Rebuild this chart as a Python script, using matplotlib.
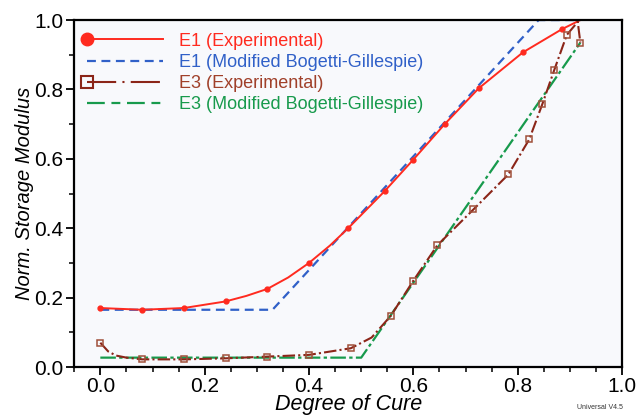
import matplotlib.pyplot as plt
from matplotlib.lines import Line2D
from matplotlib.legend_handler import HandlerLine2D
from matplotlib.ticker import MultipleLocator

plt.rcParams['font.family'] = ['Liberation Sans', 'DejaVu Sans']

# E1 experimental
e1_x = [0.0, 0.08, 0.16, 0.24, 0.28, 0.32, 0.36, 0.40, 0.44, 0.475, 0.545, 0.60, 0.66, 0.725, 0.81, 0.885, 0.92]
e1_y = [0.170, 0.165, 0.170, 0.189, 0.205, 0.225, 0.258, 0.300, 0.350, 0.400, 0.507, 0.598, 0.700, 0.803,
        0.907, 0.974, 1.0]
e1_marks = [0, 1, 2, 3, 5, 7, 9, 10, 11, 12, 13, 14, 15]

# E1 modified Bogetti-Gillespie
e1m_x = [0.0, 0.33, 0.84, 0.92]
e1m_y = [0.165, 0.165, 1.0, 1.0]

# E3 experimental
e3_x = [0.0, 0.015, 0.03, 0.05, 0.08, 0.16, 0.24, 0.32, 0.40, 0.48, 0.52, 0.557, 0.60,
        0.646, 0.715, 0.782, 0.822, 0.847, 0.87, 0.894, 0.915, 0.92]
e3_y = [0.070, 0.045, 0.033, 0.027, 0.022, 0.022, 0.025, 0.030, 0.035, 0.054, 0.085, 0.148, 0.249,
        0.351, 0.454, 0.555, 0.656, 0.757, 0.856, 0.957, 0.995, 0.935]
e3_marks = [0, 4, 5, 6, 7, 8, 9, 11, 12, 13, 14, 15, 16, 17, 18, 19, 21]

# E3 modified Bogetti-Gillespie
e3m_x = [0.0, 0.50, 0.92]
e3m_y = [0.027, 0.027, 0.935]

c_red = '#ff2a1f'
c_blue = '#3060c8'
c_brown = '#8b2518'
c_green = '#179a4c'


class LeftMarkerHandler(HandlerLine2D):
    # marker at the left end of the legend line, like the original software
    def create_artists(self, *args, **kwargs):
        arts = super().create_artists(*args, **kwargs)
        for a in arts:
            a.set_markevery([0])
        return arts


fig = plt.figure(figsize=(6.4, 4.18), dpi=100)
ax = fig.add_axes([0.116, 0.122, 0.856, 0.830])
ax.set_facecolor('#f8f9fc')

ax.plot(e1m_x, e1m_y, color=c_blue, lw=1.6, dashes=(4, 2.5))
ax.plot(e3m_x, e3m_y, color=c_green, lw=1.6, dashes=(7, 1.5, 1.5, 1.5))
ax.plot(e1_x, e1_y, color=c_red, lw=1.4, marker='o', ms=3.5, markevery=e1_marks)
ax.plot(e3_x, e3_y, color=c_brown, lw=1.5, dashes=(6, 1.5, 1, 1.5), marker='s', ms=5,
        mfc='none', mec='#a0503a', mew=1.1, markevery=e3_marks)

ax.set_xlim(-0.05, 1.0)
ax.set_ylim(0.0, 1.0)
ax.xaxis.set_major_locator(MultipleLocator(0.2))
ax.xaxis.set_minor_locator(MultipleLocator(0.05))
ax.yaxis.set_major_locator(MultipleLocator(0.2))
ax.yaxis.set_minor_locator(MultipleLocator(0.1))
ax.xaxis.set_major_formatter(plt.FormatStrFormatter('%.1f'))
ax.yaxis.set_major_formatter(plt.FormatStrFormatter('%.1f'))
ax.tick_params(which='major', direction='out', length=6, width=1.3, labelsize=15, pad=2)
ax.tick_params(axis='x', which='major', pad=1.2)
ax.tick_params(which='minor', direction='out', length=3.5, width=1.1)
for s in ax.spines.values():
    s.set_linewidth(1.6)

ax.set_xlabel('Degree of Cure', fontsize=15.5, style='italic', labelpad=-1.2)
ax.set_ylabel('Norm. Storage Modulus', fontsize=14.5, style='italic')
ax.yaxis.set_label_coords(-0.074, 0.5)

handles = [
    Line2D([], [], color=c_red, lw=1.4, marker='o', ms=9),
    Line2D([], [], color=c_blue, lw=1.6, dashes=(4, 2.5)),
    Line2D([], [], color=c_brown, lw=1.5, dashes=(14, 3, 1, 3), marker='s', ms=8,
           mfc='none', mec=c_brown, mew=1.5),
    Line2D([], [], color=c_green, lw=1.6, dashes=(8, 3, 4, 3)),
]
labels = ['E1 (Experimental)', 'E1 (Modified Bogetti-Gillespie)',
          'E3 (Experimental)', 'E3 (Modified Bogetti-Gillespie)']
leg = ax.legend(handles, labels, loc='upper left', frameon=False, fontsize=13,
                handlelength=4.2, handletextpad=0.9, labelspacing=0.23, numpoints=1,
                borderaxespad=0.3, bbox_to_anchor=(0.0, 1.0),
                handler_map={Line2D: LeftMarkerHandler()})
for t, c in zip(leg.get_texts(), [c_red, c_blue, '#a0402a', c_green]):
    t.set_color(c)

fig.text(0.938, 0.022, 'Universal V4.5', fontsize=5, ha='center', color='#333333')

fig.savefig('out.png', dpi=100)
